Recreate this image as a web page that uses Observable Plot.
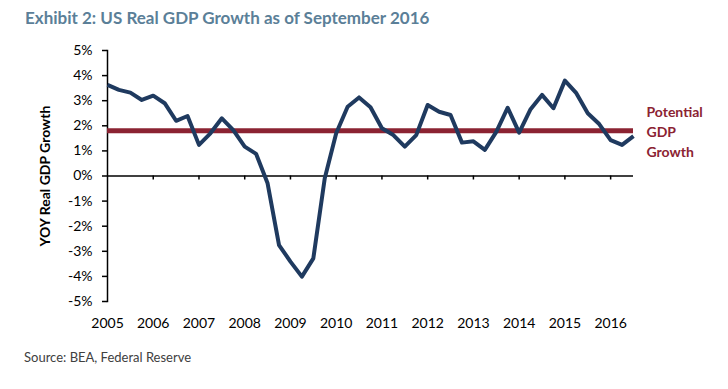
<!DOCTYPE html>
<html>
<head>
<meta charset="utf-8">
<script src="https://cdn.jsdelivr.net/npm/d3@7"></script>
<script src="https://cdn.jsdelivr.net/npm/@observablehq/plot@0.6"></script>
<style>
  body { margin: 0; background: #fff; width: 728px; height: 389px; overflow: hidden; font-family: Lato, "Open Sans", sans-serif; }
  #title { height: 36px; box-sizing: border-box; padding: 8px 0 0 25px; font-size: 17px; line-height: 20px; font-weight: bold; color: #5b7f98; }
  #source { padding: 8px 0 0 24px; font-size: 13px; line-height: 16px; color: #404040; }
  svg { display: block; }
</style>
</head>
<body>
<div id="title">Exhibit 2: US Real GDP Growth as of September 2016</div>
<div id="chart"></div>
<div id="source">Source: BEA, Federal Reserve</div>
<script>
const years = [2005, 2006, 2007, 2008, 2009, 2010, 2011, 2012, 2013, 2014, 2015, 2016];
const quarters = ["Q1", "Q2", "Q3", "Q4"];
const growth = [
  3.63, 3.43, 3.32, 3.03,
  3.20, 2.90, 2.20, 2.39,
  1.24, 1.70, 2.30, 1.83,
  1.17, 0.88, -0.29, -2.75,
  -3.41, -4.01, -3.28, -0.09,
  1.70, 2.76, 3.13, 2.74,
  1.90, 1.63, 1.17, 1.63,
  2.83, 2.56, 2.43, 1.33,
  1.38, 1.04, 1.76, 2.72,
  1.73, 2.66, 3.23, 2.70,
  3.80, 3.30, 2.50, 2.07,
  1.43, 1.24, 1.59
];
const potential = 1.8;
const yTicks = [-5, -4, -3, -2, -1, 0, 1, 2, 3, 4, 5];
const legendLabel = "Potential\nGDP\nGrowth";
const yLabel = "YOY Real GDP Growth";

const data = growth.map((v, i) => ({
  t: years[0] + Math.floor(i / 4) + (i % 4) / 4,
  q: quarters[i % 4],
  v
}));
const lastT = data[data.length - 1].t;

const chart = Plot.plot({
  width: 728,
  height: 305,
  marginLeft: 107,
  marginRight: 95,
  marginTop: 14,
  marginBottom: 40,
  style: { fontFamily: "Lato, 'Open Sans', sans-serif", fontSize: "14px", color: "#000" },
  x: { domain: [years[0], lastT] },
  y: { domain: [yTicks[0], yTicks[yTicks.length - 1]] },
  marks: [
    Plot.axisY({ ticks: yTicks, tickSize: 5, tickPadding: 10, tickFormat: d => d + "%", label: null, fontSize: 14, stroke: "#000", strokeWidth: 1.5, strokeOpacity: 1 }),
    Plot.axisX({ ticks: years, tickSize: 0, tickPadding: 17, tickFormat: d => String(d), label: null, fontSize: 14 }),
    Plot.frame({ anchor: "left", stroke: "#000", strokeWidth: 1.5 }),
    Plot.ruleY([0], { stroke: "#000", strokeWidth: 1.3 }),
    Plot.ruleX(years.slice(1), { x: d => d, y1: 0, y2: 0, insetBottom: -4, stroke: "#000", strokeWidth: 1.5 }),
    Plot.ruleY([potential], { stroke: "#8b2332", strokeWidth: 5 }),
    Plot.line(data, { x: "t", y: "v", stroke: "#1f3a5f", strokeWidth: 4, strokeLinejoin: "round", strokeLinecap: "butt" }),
    Plot.text([legendLabel], { x: () => lastT, y: () => potential, dx: 13, textAnchor: "start", lineHeight: 1.43, fontSize: 14, fontWeight: "bold", fill: "#8b2332" }),
    Plot.text([yLabel], { frameAnchor: "left", textAnchor: "middle", rotate: -90, dx: -62, fontSize: 14, fontWeight: "bold", fill: "#000" })
  ]
});
document.getElementById("chart").appendChild(chart);
</script>
</body>
</html>
